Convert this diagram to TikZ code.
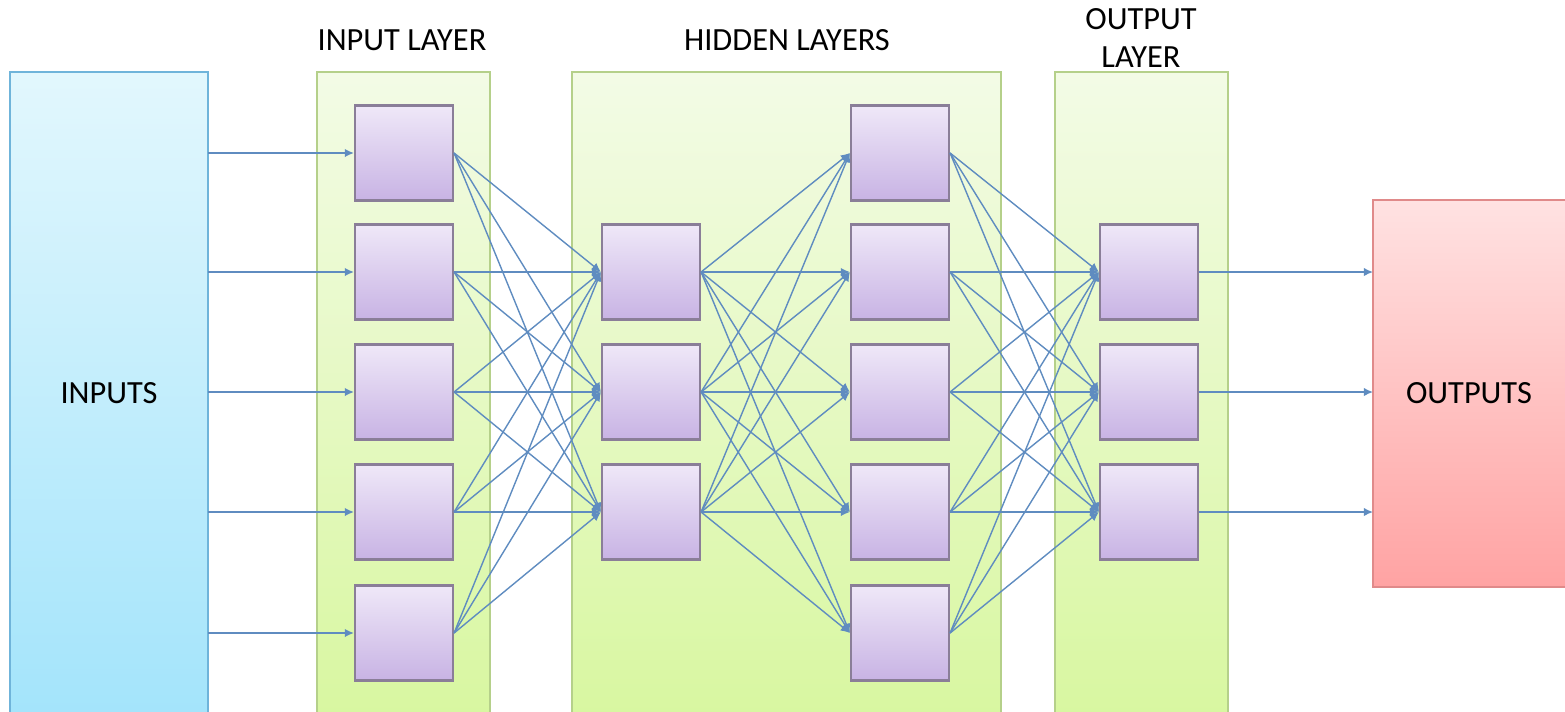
\documentclass[tikz,border=0pt]{standalone}
\usepackage{fontspec}
\setmainfont{Carlito}
\usepackage{tikz}
\usetikzlibrary{arrows.meta}

\definecolor{linkblue}{HTML}{5F8CC0}
\definecolor{panelline}{HTML}{B5D08A}
\definecolor{unitline}{HTML}{8A7E98}
\definecolor{unittop}{HTML}{EFE8F8}
\definecolor{unitbot}{HTML}{C8B3E4}
\definecolor{paneltop}{HTML}{F3FBE6}
\definecolor{panelbot}{HTML}{D8F7A0}
\definecolor{intop}{HTML}{E2F7FD}
\definecolor{inbot}{HTML}{A3E4FB}
\definecolor{inline}{HTML}{6FB4DA}
\definecolor{outtop}{HTML}{FFE2E2}
\definecolor{outbot}{HTML}{FFA3A3}
\definecolor{outline}{HTML}{E08A8A}

\tikzset{
  unit/.style={draw=unitline, line width=0.6pt, top color=unittop, bottom color=unitbot,
    minimum width=0.98cm, minimum height=0.95cm, inner sep=0pt},
  panel/.style={draw=panelline, line width=0.5pt, top color=paneltop, bottom color=panelbot},
  link/.style={draw=linkblue, line width=0.4pt, -{Latex[length=2.6pt,width=2.4pt]}},
  lbl/.style={font=\fontsize{9.2}{10.6}\selectfont, align=center}
}

\begin{document}
\begin{tikzpicture}[x=0.01cm, y=-0.01cm]
  \clip (0,0) rectangle (1565,711);
  % outer boxes
  \shade [draw=inline, line width=0.5pt, top color=intop, bottom color=inbot] (10,72) rectangle (208,720);
  \shade [draw=outline, line width=0.5pt, top color=outtop, bottom color=outbot] (1373,200) rectangle (1580,587);
  \node [lbl] (inputs) at (109,393) {INPUTS};
  \node [lbl] (outputs) at (1469,393) {OUTPUTS};
  \coordinate (inedge) at (208,0);
  \coordinate (outedge) at (1373,0);

  % layer panels
  \shade [panel] (317,72) rectangle (490,720);
  \shade [panel] (572,72) rectangle (1001,720);
  \shade [panel] (1055,72) rectangle (1228,720);
  \node [lbl] (inlabel) at (402,40) {INPUT LAYER};
  \node [lbl] (hidlabel) at (787,40) {HIDDEN LAYERS};
  \node [lbl] (outlabel) at (1141,38) {OUTPUT\\LAYER};

  % units
  \foreach \n/\y in {1/153,2/272,3/392,4/512,5/633} {
    \node [unit] (i\n) at (404,\y) {};
    \node [unit] (hb\n) at (900,\y) {};
  }
  \foreach \n/\y in {1/272,2/392,3/512} {
    \node [unit] (ha\n) at (651,\y) {};
    \node [unit] (o\n) at (1149,\y) {};
  }

  % connections
  \foreach \n in {1,...,5} {
    \coordinate (src\n) at (inedge |- i\n.west);
    \draw [link] (src\n) -- (i\n.west);
    \foreach \m in {1,2,3} {
      \draw [link] (i\n.east) -- (ha\m.west);
      \draw [link] (ha\m.east) -- (hb\n.west);
      \draw [link] (hb\n.east) -- (o\m.west);
    }
  }
  \foreach \m in {1,2,3} {
    \coordinate (dst\m) at (outedge |- o\m.east);
    \draw [link] (o\m.east) -- (dst\m);
  }
\end{tikzpicture}
\end{document}
